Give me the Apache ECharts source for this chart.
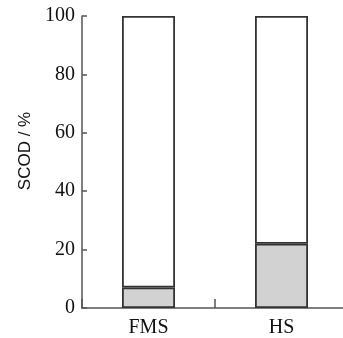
<!DOCTYPE html>
<html>
<head>
<meta charset="utf-8">
<script src="https://cdn.jsdelivr.net/npm/echarts@6/dist/echarts.min.js"></script>
<style>html,body{margin:0;padding:0;background:#fff;overflow:hidden;}#c{width:350px;height:338px;}</style>
</head>
<body>
<div id="c"></div>
<script>
var categories = ['FMS', 'HS'];
var grayValues = [7, 22];
var totalValues = [100, 100];
var whiteValues = totalValues.map(function (t, i) { return t - grayValues[i]; });
var yTicks = [0, 20, 40, 60, 80, 100];

var chart = echarts.init(document.getElementById('c'), null, {renderer: 'canvas'});
chart.setOption({
  animation: false,
  grid: {left: 82, top: 16, bottom: 30, right: 2},
  xAxis: {
    type: 'category',
    data: categories,
    boundaryGap: true,
    axisLine: {lineStyle: {color: '#555', width: 1.5}},
    axisTick: {show: true, interval: 0, inside: true, length: 9, lineStyle: {color: '#555', width: 1.5}},
    axisLabel: {color: '#111', fontFamily: 'Liberation Serif', fontSize: 20, margin: 10}
  },
  yAxis: {
    type: 'value',
    min: 0, max: 100, interval: 20,
    name: 'SCOD / %',
    nameLocation: 'middle',
    nameGap: 48,
    nameTextStyle: {color: '#111', fontFamily: 'Liberation Sans', fontSize: 17, padding: [0, 0, 0, 22]},
    axisLine: {show: true, lineStyle: {color: '#555', width: 1.5}},
    axisTick: {show: true, inside: true, length: 5, lineStyle: {color: '#555', width: 1.5}},
    splitLine: {show: false},
    axisLabel: {color: '#111', fontFamily: 'Liberation Serif', fontSize: 20, margin: 7,
      formatter: function (v) { return yTicks.indexOf(v) >= 0 ? String(v) : ''; }}
  },
  series: [
    {type: 'bar', stack: 's', data: grayValues, barWidth: 53,
      itemStyle: {color: '#d2d2d2', borderColor: '#333', borderWidth: 1.8}},
    {type: 'bar', stack: 's', data: whiteValues, barWidth: 53,
      itemStyle: {color: '#fff', borderColor: '#333', borderWidth: 1.8}}
  ]
});
</script>
</body>
</html>
